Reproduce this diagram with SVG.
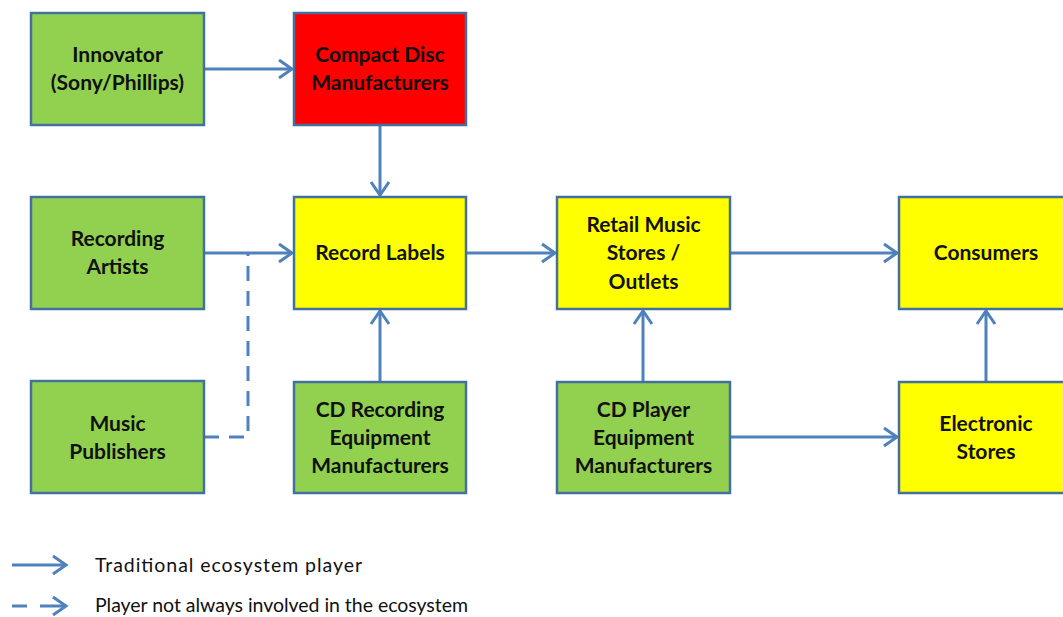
<svg xmlns="http://www.w3.org/2000/svg" width="1063" height="617" viewBox="0 0 1063 617">
  <style>
    .box { stroke: #41719C; stroke-width: 2.5; }
    .green { fill: #92D050; }
    .yellow { fill: #FFFF00; }
    .red { fill: #FF0000; }
    .label { font-family: Lato, "Liberation Sans", sans-serif; font-weight: bold; font-size: 21px; fill: #111; text-anchor: middle; }
    .conn { stroke: #4F81BD; stroke-width: 3; fill: none; }
    .dash { stroke-dasharray: 15 10; }
    .legend { font-family: Lato, "Liberation Sans", sans-serif; font-size: 19.5px; fill: #111; }
  </style>
  <defs>
    <marker id="arrow" markerUnits="userSpaceOnUse" markerWidth="22" markerHeight="22" viewBox="-17 -11 22 22" refX="0" refY="0" orient="auto">
      <path d="M-13,-9 L0,0 L-13,9" fill="none" stroke="#4F81BD" stroke-width="3"/>
    </marker>
  </defs>
  <rect width="1063" height="617" fill="#FFFFFF"/>

  <!-- connectors -->
  <g id="connectors">
    <line class="conn" x1="204" y1="69" x2="292" y2="69" marker-end="url(#arrow)"/>
    <line class="conn" x1="380" y1="125" x2="380" y2="195" marker-end="url(#arrow)"/>
    <line class="conn" x1="204" y1="253" x2="292" y2="253" marker-end="url(#arrow)"/>
    <polyline class="conn dash" points="204,437 248,437 248,253"/>
    <line class="conn" x1="380" y1="382" x2="380" y2="311" marker-end="url(#arrow)"/>
    <line class="conn" x1="466" y1="253" x2="555" y2="253" marker-end="url(#arrow)"/>
    <line class="conn" x1="730" y1="253" x2="897" y2="253" marker-end="url(#arrow)"/>
    <line class="conn" x1="643" y1="382" x2="643" y2="311" marker-end="url(#arrow)"/>
    <line class="conn" x1="730" y1="437" x2="897" y2="437" marker-end="url(#arrow)"/>
    <line class="conn" x1="986" y1="382" x2="986" y2="311" marker-end="url(#arrow)"/>
  </g>

  <!-- nodes -->
  <g id="innovator">
    <rect class="box green" x="31" y="13" width="173" height="112"/>
    <text class="label" x="117.5" y="62">Innovator</text>
    <text class="label" x="117.5" y="90">(Sony/Phillips)</text>
  </g>
  <g id="cd-manufacturers">
    <rect class="box red" x="294" y="13" width="172" height="112"/>
    <text class="label" x="380" y="62">Compact Disc</text>
    <text class="label" x="380" y="90">Manufacturers</text>
  </g>
  <g id="recording-artists">
    <rect class="box green" x="31" y="197" width="173" height="112"/>
    <text class="label" x="117.5" y="246">Recording</text>
    <text class="label" x="117.5" y="274">Artists</text>
  </g>
  <g id="record-labels">
    <rect class="box yellow" x="294" y="197" width="172" height="112"/>
    <text class="label" x="380" y="260">Record Labels</text>
  </g>
  <g id="retail">
    <rect class="box yellow" x="557" y="197" width="173" height="112"/>
    <text class="label" x="643.5" y="232">Retail Music</text>
    <text class="label" x="643.5" y="260">Stores /</text>
    <text class="label" x="643.5" y="289">Outlets</text>
  </g>
  <g id="consumers">
    <rect class="box yellow" x="899" y="197" width="173" height="112"/>
    <text class="label" x="986" y="260">Consumers</text>
  </g>
  <g id="music-publishers">
    <rect class="box green" x="31" y="381" width="173" height="112"/>
    <text class="label" x="117.5" y="431">Music</text>
    <text class="label" x="117.5" y="459">Publishers</text>
  </g>
  <g id="cd-recording">
    <rect class="box green" x="294" y="382" width="172" height="111"/>
    <text class="label" x="380" y="417">CD Recording</text>
    <text class="label" x="380" y="445">Equipment</text>
    <text class="label" x="380" y="473">Manufacturers</text>
  </g>
  <g id="cd-player">
    <rect class="box green" x="557" y="382" width="173" height="111"/>
    <text class="label" x="643.5" y="417">CD Player</text>
    <text class="label" x="643.5" y="445">Equipment</text>
    <text class="label" x="643.5" y="473">Manufacturers</text>
  </g>
  <g id="electronic-stores">
    <rect class="box yellow" x="899" y="382" width="173" height="111"/>
    <text class="label" x="986" y="431">Electronic</text>
    <text class="label" x="986" y="459">Stores</text>
  </g>

  <!-- legend -->
  <g id="legend">
    <line class="conn" x1="12" y1="565" x2="66" y2="565" marker-end="url(#arrow)"/>
    <text class="legend" x="95" y="572" textLength="267" lengthAdjust="spacing">Traditional ecosystem player</text>
    <line class="conn" x1="12" y1="606" x2="27" y2="606"/>
    <line class="conn" x1="40" y1="606" x2="66" y2="606" marker-end="url(#arrow)"/>
    <text class="legend" x="95" y="612" textLength="373" lengthAdjust="spacing">Player not always involved in the ecosystem</text>
  </g>
</svg>
